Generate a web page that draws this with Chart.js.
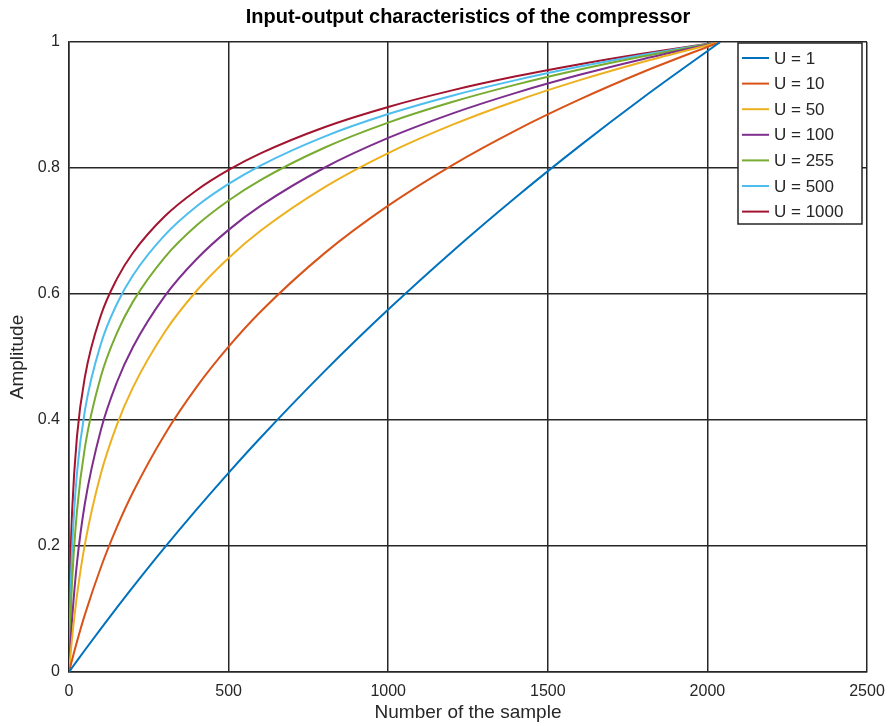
<!DOCTYPE html>
<html>
<head>
<meta charset="utf-8">
<script src="https://cdn.jsdelivr.net/npm/chart.js@4"></script>
<style>
  html, body { margin: 0; padding: 0; background: #fff; }
  #wrap { width: 890px; height: 726px; }
</style>
</head>
<body>
<div id="wrap"><canvas id="c" width="890" height="726"></canvas></div>
<script>
// Sample index along the x axis
const samples = [0, 5, 10, 25, 50, 100, 150, 200, 300, 400, 500, 600, 800, 1000, 1200, 1400, 1600, 1800, 2040];

// Compressor output amplitude for each compression factor U
const uValues = [1, 10, 50, 100, 255, 500, 1000];
const ampU1    = [0, 0.0035, 0.0071, 0.0176, 0.0349, 0.0690, 0.1023, 0.1349, 0.1979, 0.2582, 0.3162, 0.3719, 0.4772, 0.5753, 0.6672, 0.7536, 0.8351, 0.9123, 1];
const ampU10   = [0, 0.0101, 0.0200, 0.0482, 0.0914, 0.1663, 0.2298, 0.2849, 0.3771, 0.4526, 0.5164, 0.5718, 0.6645, 0.7402, 0.8043, 0.8598, 0.9088, 0.9527, 1];
const ampU50   = [0, 0.0294, 0.0557, 0.1215, 0.2034, 0.3150, 0.3922, 0.4514, 0.5398, 0.6052, 0.6572, 0.7004, 0.7694, 0.8237, 0.8684, 0.9064, 0.9395, 0.9687, 1];
const ampU100  = [0, 0.0475, 0.0864, 0.1733, 0.2683, 0.3846, 0.4599, 0.5156, 0.5967, 0.6555, 0.7018, 0.7398, 0.8004, 0.8477, 0.8864, 0.9193, 0.9479, 0.9731, 1];
const ampU255  = [0, 0.0875, 0.1462, 0.2555, 0.3572, 0.4693, 0.5379, 0.5875, 0.6583, 0.7090, 0.7485, 0.7809, 0.8322, 0.8721, 0.9047, 0.9323, 0.9563, 0.9774, 1];
const ampU500  = [0, 0.1287, 0.1992, 0.3159, 0.4157, 0.5210, 0.5841, 0.6293, 0.6934, 0.7392, 0.7747, 0.8039, 0.8499, 0.8856, 0.9148, 0.9395, 0.9610, 0.9799, 1];
const ampU1000 = [0, 0.1792, 0.2569, 0.3740, 0.4688, 0.5662, 0.6240, 0.6651, 0.7233, 0.7647, 0.7969, 0.8232, 0.8647, 0.8969, 0.9232, 0.9455, 0.9648, 0.9818, 1];
const seriesValues = [ampU1, ampU10, ampU50, ampU100, ampU255, ampU500, ampU1000];

// Axis ticks
const xTicks = [0, 500, 1000, 1500, 2000, 2500];
const yTicks = [0, 0.2, 0.4, 0.6, 0.8, 1];

const chartTitle = 'Input-output characteristics of the compressor';
const colors = ['#0072BD', '#D95319', '#EDB120', '#7E2F8E', '#77AC30', '#4DBEEE', '#A2142F'];
const FONT = '"Liberation Sans", Arial, Helvetica, sans-serif';
const TEXT = '#262626';

const datasets = uValues.map((u, i) => ({
  label: 'U = ' + u,
  data: samples.map((s, k) => ({ x: s, y: seriesValues[i][k] })),
  borderColor: colors[i],
  backgroundColor: colors[i],
  borderWidth: 2,
  pointRadius: 0,
  fill: false,
  cubicInterpolationMode: 'monotone'
}));

// Title centred over the plot area
const plotTitle = {
  id: 'plotTitle',
  afterDraw(chart) {
    const ctx = chart.ctx;
    const area = chart.chartArea;
    ctx.save();
    ctx.font = 'bold 20px ' + FONT;
    ctx.fillStyle = '#000';
    ctx.textAlign = 'center';
    ctx.textBaseline = 'middle';
    ctx.fillText(chartTitle, (area.left + area.right) / 2, 17);
    ctx.restore();
  }
};

// Boxed legend in the upper-right corner of the plot area
const boxLegend = {
  id: 'boxLegend',
  afterDatasetsDraw(chart) {
    const ctx = chart.ctx;
    const area = chart.chartArea;
    const w = 124, rowH = 25.6, h = 181;
    const x0 = area.right - 5 - w, y0 = area.top + 1;
    ctx.save();
    ctx.fillStyle = '#fff';
    ctx.fillRect(x0, y0, w, h);
    ctx.strokeStyle = TEXT;
    ctx.lineWidth = 1.5;
    ctx.strokeRect(x0, y0, w, h);
    ctx.font = '17px ' + FONT;
    ctx.textBaseline = 'middle';
    chart.data.datasets.forEach((ds, i) => {
      const yy = y0 + 15 + i * rowH;
      ctx.strokeStyle = ds.borderColor;
      ctx.lineWidth = 2;
      ctx.beginPath();
      ctx.moveTo(x0 + 4, yy);
      ctx.lineTo(x0 + 31, yy);
      ctx.stroke();
      ctx.fillStyle = TEXT;
      ctx.fillText(ds.label, x0 + 36, yy + 1);
    });
    ctx.restore();
  }
};

new Chart(document.getElementById('c'), {
  type: 'line',
  data: { datasets },
  plugins: [boxLegend, plotTitle],
  options: {
    responsive: false,
    animation: false,
    layout: { padding: { left: 0, right: 23, top: 42, bottom: 0 } },
    plugins: {
      legend: { display: false },
      tooltip: { enabled: false },
      title: { display: false }
    },
    scales: {
      x: {
        type: 'linear',
        min: 0, max: 2500,
        afterBuildTicks: s => { s.ticks = xTicks.map(v => ({ value: v })); },
        afterFit: s => { s.height = 54; s.paddingLeft = 0; s.paddingRight = 0; },
        grid: { color: TEXT, lineWidth: 1.5, drawTicks: false },
        border: { color: TEXT, width: 1.5 },
        ticks: { color: TEXT, font: { family: FONT, size: 16 }, padding: 10, maxRotation: 0, callback: v => String(v) },
        title: { display: true, text: 'Number of the sample', color: TEXT, font: { family: FONT, size: 19 }, padding: { top: 0, bottom: 2 } }
      },
      y: {
        min: 0, max: 1,
        afterBuildTicks: s => { s.ticks = yTicks.map(v => ({ value: v })); },
        afterFit: s => { s.width = 69; s.paddingTop = 0; s.paddingBottom = 0; },
        grid: { color: TEXT, lineWidth: 1.5, drawTicks: false },
        border: { color: TEXT, width: 1.5 },
        ticks: { color: TEXT, font: { family: FONT, size: 16 }, padding: 9, callback: v => String(v) },
        title: { display: true, text: 'Amplitude', color: TEXT, font: { family: FONT, size: 19 }, padding: { top: 6, bottom: 0 } }
      }
    }
  }
});
</script>
</body>
</html>
